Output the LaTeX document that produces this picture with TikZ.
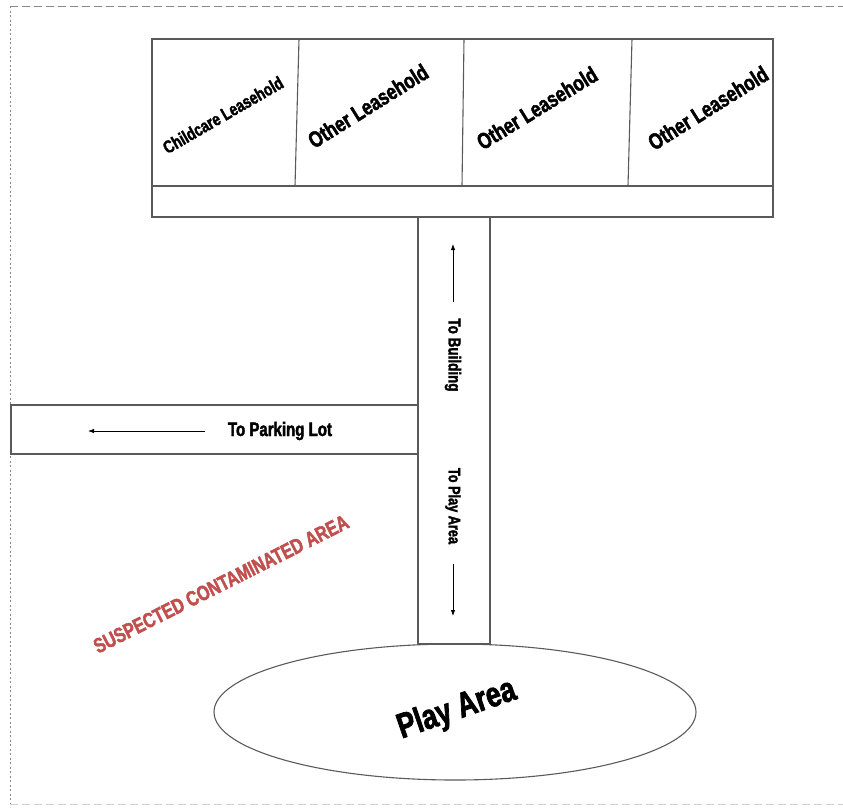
\documentclass[tikz,border=0pt]{standalone}
\usepackage{fontspec}
\setmainfont{Liberation Sans}
\newfontfamily\heavy{Liberation Sans}[UprightFont={* Bold}, FakeStretch=0.77, FakeBold=2]
\usetikzlibrary{shapes.geometric,arrows.meta}
\definecolor{linegray}{HTML}{5A5A5A}
\definecolor{warnred}{HTML}{C0504D}
\definecolor{framegray}{HTML}{888888}
\begin{document}
\begin{tikzpicture}[x=1pt,y=-1pt,
  wall/.style={draw=linegray, line width=1.1pt},
  lbl/.style={font=\heavy\fontsize{#1}{#1}\selectfont, inner sep=0pt, text=black},
  pointer/.style={draw=black, line width=0.8pt, -{Latex[length=6pt,width=4.5pt]}},
  frame/.style={draw=framegray, line width=1pt}]
\useasboundingbox (0,0) rectangle (843,807);
% frame
\draw[frame, dash pattern=on 8pt off 4pt] (10,6) -- (843,6);
\draw[frame, dash pattern=on 2pt off 2.5pt] (10,6) -- (10,807);
\draw[draw=framegray!40, line width=0.8pt, dash pattern=on 8pt off 4pt] (10,804) -- (843,804);
% building
\draw[wall] (152,39) rectangle (773,217);
\draw[wall] (152,186) -- (773,186);
\draw[wall] (299,39) -- (295,186);
\draw[wall] (464,39) -- (462,186);
\draw[wall] (632,39) -- (628,186);
% paths
\draw[wall] (418,217) rectangle (490,644);
\draw[wall] (11,405) rectangle (418,454);
% play area
\node[wall, ellipse, minimum width=482pt, minimum height=136pt, inner sep=0pt] (play) at (455,712) {};
\node[lbl=35, rotate=19] (playlbl) at (457,710) {Play Area};
% leasehold labels
\node[lbl=18, rotate=30] (l1) at (223,115) {Childcare Leasehold};
\node[lbl=22.5, rotate=32] (l2) at (368,106) {Other Leasehold};
\node[lbl=22.5, rotate=31.5] (l3) at (537,108) {Other Leasehold};
\node[lbl=22.5, rotate=32] (l4) at (708,108) {Other Leasehold};
% vertical path labels and arrows
\node[lbl=17.5, rotate=-90] (tobuild) at (453,355) {To Building};
\node[lbl=16.5, rotate=-90] (toplay) at (453,506) {To Play Area};
\coordinate (upA) at (453,302);
\coordinate (upB) at (453,244);
\coordinate (dnA) at (453,564);
\coordinate (dnB) at (453,616);
\draw[pointer] (upA) -- (upB);
\draw[pointer] (dnA) -- (dnB);
% parking
\node[lbl=19.5] (topark) at (280,431) {To Parking Lot};
\coordinate (pkA) at (205,431);
\coordinate (pkB) at (88,431);
\draw[pointer] (pkA) -- (pkB);
% contaminated area
\node[lbl=21, rotate=26.7, text=warnred] (contam) at (221,584) {SUSPECTED CONTAMINATED AREA};
\end{tikzpicture}
\end{document}
